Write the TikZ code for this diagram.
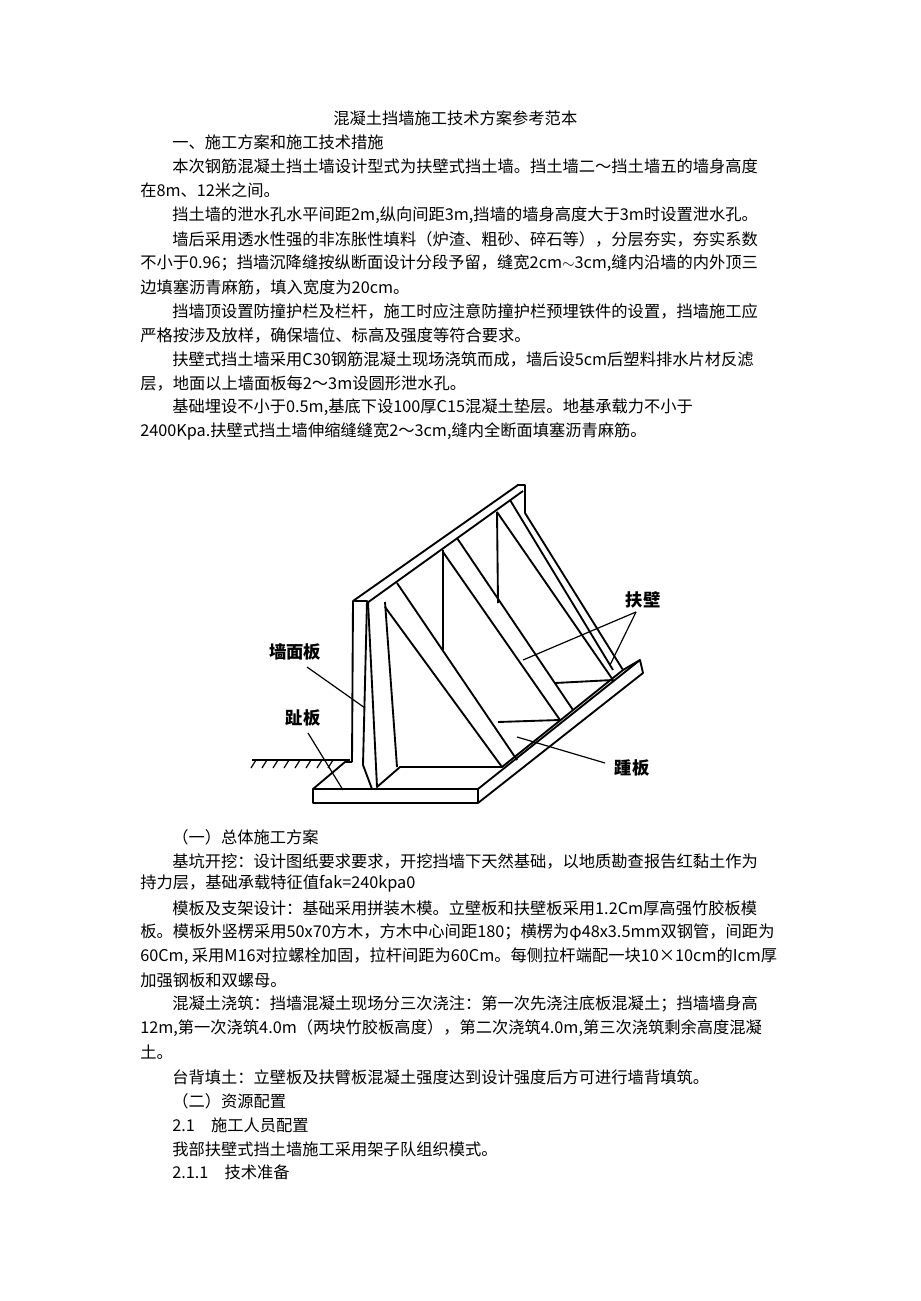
\documentclass[tikz,border=0pt]{standalone}
\usepackage{fontspec}
\setmainfont{Noto Sans CJK SC}
\begin{document}
\begin{tikzpicture}[x=0.75pt,y=-0.75pt,
  tl/.style={anchor=west,inner sep=0pt,font=\fontsize{12.2pt}{14pt}\selectfont},
  ln/.style={line width=1.4pt,line join=round},
  lbl/.style={inner sep=0pt,font=\fontsize{13pt}{14pt}\selectfont\bfseries},
  ld/.style={line width=0.9pt}]
\useasboundingbox (0,0) rectangle (920,1301);
\node[tl] (t0) at (333,118) {混凝土挡墙施工技术方案参考范本};
\node[tl] (t1) at (172,142) {一、施工方案和施工技术措施};
\node[tl] (t2) at (172,166) {本次钢筋混凝土挡土墙设计型式为扶壁式挡土墙。挡土墙二～挡土墙五的墙身高度};
\node[tl] (t3) at (140,190) {在8m、12米之间。};
\node[tl] (t4) at (172,215) {挡土墙的泄水孔水平间距2m,纵向间距3m,挡墙的墙身高度大于3m时设置泄水孔。};
\node[tl] (t5) at (172,239) {墙后采用透水性强的非冻胀性填料（炉渣、粗砂、碎石等），分层夯实，夯实系数};
\node[tl] (t6) at (140,263) {不小于0.96；挡墙沉降缝按纵断面设计分段予留，缝宽2cm$\sim$3cm,缝内沿墙的内外顶三};
\node[tl] (t7) at (140,287) {边填塞沥青麻筋，填入宽度为20cm。};
\node[tl] (t8) at (172,311) {挡墙顶设置防撞护栏及栏杆，施工时应注意防撞护栏预埋铁件的设置，挡墙施工应};
\node[tl] (t9) at (140,335) {严格按涉及放样，确保墙位、标高及强度等符合要求。};
\node[tl] (t10) at (172,359) {扶壁式挡土墙采用C30钢筋混凝土现场浇筑而成，墙后设5cm后塑料排水片材反滤};
\node[tl] (t11) at (140,383) {层，地面以上墙面板每2～3m设圆形泄水孔。};
\node[tl] (t12) at (172,407) {基础埋设不小于0.5m,基底下设100厚C15混凝土垫层。地基承载力不小于};
\node[tl] (t13) at (140,431) {2400Kpa.扶壁式挡土墙伸缩缝缝宽2～3cm,缝内全断面填塞沥青麻筋。};

\node[tl] (u0) at (172,837) {（一）总体施工方案};
\node[tl] (u1) at (172,861) {基坑开挖：设计图纸要求要求，开挖挡墙下天然基础，以地质勘查报告红黏土作为};
\node[tl] (u2) at (140,884) {持力层，基础承载特征值fak=240kpa0};
\node[tl] (u3) at (172,908) {模板及支架设计：基础采用拼装木模。立壁板和扶壁板采用1.2Cm厚高强竹胶板模};
\node[tl] (u4) at (140,932) {板。模板外竖楞采用50x70方木，方木中心间距180；横楞为φ48x3.5mm双钢管，间距为};
\node[tl] (u5) at (140,956) {60Cm, 采用M16对拉螺栓加固，拉杆间距为60Cm。每侧拉杆端配一块10×10cm的Icm厚};
\node[tl] (u6) at (140,980) {加强钢板和双螺母。};
\node[tl] (u7) at (172,1004) {混凝土浇筑：挡墙混凝土现场分三次浇注：第一次先浇注底板混凝土；挡墙墙身高};
\node[tl] (u8) at (140,1028) {12m,第一次浇筑4.0m（两块竹胶板高度），第二次浇筑4.0m,第三次浇筑剩余高度混凝};
\node[tl] (u9) at (140,1052) {土。};
\node[tl] (u10) at (172,1077) {台背填土：立壁板及扶臂板混凝土强度达到设计强度后方可进行墙背填筑。};
\node[tl] (u11) at (172,1101) {（二）资源配置};
\node[tl] (u12) at (172,1125) {2.1\quad 施工人员配置};
\node[tl] (u13) at (172,1149) {我部扶壁式挡土墙施工采用架子队组织模式。};
\node[tl] (u14) at (172,1172) {2.1.1\quad 技术准备};

% drawing
\draw[ln] (313,789) rectangle (478,803);
\draw[ln] (478,789) -- (640,660) -- (643,673) -- (478,803);
\draw[ln] (313,789) -- (345,762) -- (352,762);
\draw[ln] (352,762) -- (353,601) -- (367,601) -- (363,765) -- (372,789);
\draw[ln] (368,602) -- (377,787) -- (400,767) -- (502,767) -- (623,670) -- (640,660);
\draw[ln] (353,601) -- (518,485) -- (525,485) -- (525,513);
\draw[ln] (367,603) -- (523,491);
\draw[ln] (385,602) -- (397,767);
\draw[ln] (385,607) -- (502,767);
\draw[ln] (397,583) -- (517,760);
\draw[ln] (443,550) -- (443,650);
\draw[ln] (443,552) -- (560,720);
\draw[ln] (457,538) -- (573,710);
\draw[ln] (497,512) -- (498,603);
\draw[ln] (497,512) -- (613,680);
\draw[ln] (510,500) -- (613,670);
\draw[ln] (525,513) -- (623,670);
\draw[ln] (498,722) -- (560,720);
\draw[ln] (555,683) -- (613,680);
% ground
\draw[ln] (252,760) -- (350,760);
\foreach \i in {0,...,7} \draw[line width=0.9pt] (256+\i*11,760) -- (251+\i*11,768);

\node[lbl] (qm) at (295,652) {墙面板};
\node[lbl] (zb) at (303,718) {趾板};
\node[lbl] (fb) at (643,600) {扶壁};
\node[lbl] (jb) at (632,768) {踵板};
\coordinate (qmE) at (365,708);
\coordinate (zbE) at (343,790);
\coordinate (jbE) at (517,737);
\coordinate (fb1) at (523,660);
\coordinate (fb2) at (610,665);
\draw[ld] (307,667) -- (qmE);
\draw[ld] (308,733) -- (zbE);
\draw[ld] (605,763) -- (jbE);
\draw[ld] (636,612) -- (fb1);
\draw[ld] (636,612) -- (fb2);
\end{tikzpicture}
\end{document}
